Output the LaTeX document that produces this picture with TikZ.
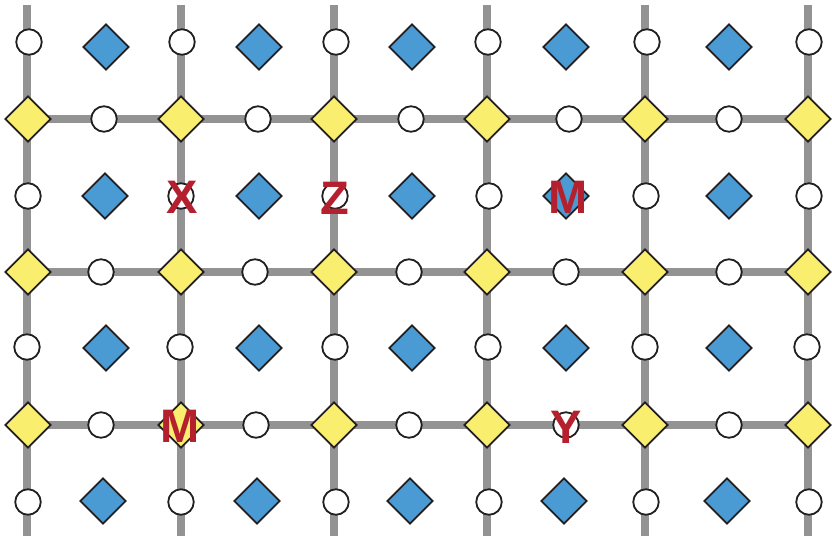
\documentclass[tikz,border=0pt]{standalone}
\usepackage{fontspec}
\setmainfont{Liberation Sans}
\usetikzlibrary{shapes.geometric}
\definecolor{gridgray}{HTML}{939393}
\definecolor{siteblue}{HTML}{4A9AD4}
\definecolor{siteyellow}{HTML}{FAEE6E}
\definecolor{labelred}{HTML}{B5202E}
\definecolor{inkblack}{HTML}{231F20}
\tikzset{
  gridline/.style={draw=gridgray, line width=8.5pt},
  ring/.style={circle, draw=inkblack, fill=white, line width=1.8pt, minimum size=25.5pt, inner sep=0pt},
  bluedia/.style={diamond, aspect=1, draw=inkblack, fill=siteblue, line width=1.8pt, minimum width=46pt, minimum height=46pt, inner sep=0pt},
  yellowdia/.style={diamond, aspect=1, draw=inkblack, fill=siteyellow, line width=1.8pt, minimum width=46pt, minimum height=46pt, inner sep=0pt},
  lbl/.style={text=labelred, font=\fontsize{47}{47}\selectfont\bfseries, inner sep=0pt, anchor=base}
}
\begin{document}
\begin{tikzpicture}[x=1pt,y=-1pt]
\useasboundingbox (0,0) rectangle (832,539);
% grid lines
\foreach \x [count=\i] in {27,181,334,487,645,808} {
  \coordinate (vt\i) at (\x,5);
  \coordinate (vb\i) at (\x,536);
  \draw[gridline] (vt\i) -- (vb\i);
}
\foreach \y [count=\j] in {119,272,425} {
  \coordinate (hl\j) at (27,\y);
  \coordinate (hr\j) at (808,\y);
  \draw[gridline] (hl\j) -- (hr\j);
}
% circles on vertical lines
\foreach \x/\y [count=\i] in {29/42,182/42,336/42,488/42,647/42,809/42,
  28/196,181/196,335/196,489/196,646/196,809/196,
  27/347,180/347,335/347,488/347,645/347,807/347,
  28/502,181/502,336/502,489/502,646/502,809/502} {
  \node[ring] (cv\i) at (\x,\y) {};
}
% circles on horizontal lines
\foreach \x/\y [count=\i] in {104/119,258/119,411/119,569/119,729/119,
  101/272,255/272,409/272,566/272,729/272,
  101/425,256/425,409/425,566/425,729/425} {
  \node[ring] (ch\i) at (\x,\y) {};
}
% blue diamonds
\foreach \x/\y [count=\i] in {106/47,259/47,412/47,566/47,729/47,
  105/196,259/196,412/196,566/196,729/196,
  106/348,259/348,412/348,566/348,729/348,
  103/501,257/501,410/501,564/501,727/501} {
  \node[bluedia] (b\i) at (\x,\y) {};
}
% yellow diamonds
\foreach \x/\y [count=\i] in {28/119,181/119,334/119,487/119,645/119,808/119,
  28/272,181/272,334/272,487/272,645/272,808/272,
  28/425,181/425,334/425,487/425,645/425,808/425} {
  \node[yellowdia] (y\i) at (\x,\y) {};
}
% labels
\node[lbl] (lx) at (182,213) {X};
\node[lbl] (lz) at (335,214) {Z};
\node[lbl] (lm1) at (568,213) {M};
\node[lbl] (lm2) at (180.5,442) {M};
\node[lbl] (ly) at (566.5,443) {Y};
\end{tikzpicture}
\end{document}
